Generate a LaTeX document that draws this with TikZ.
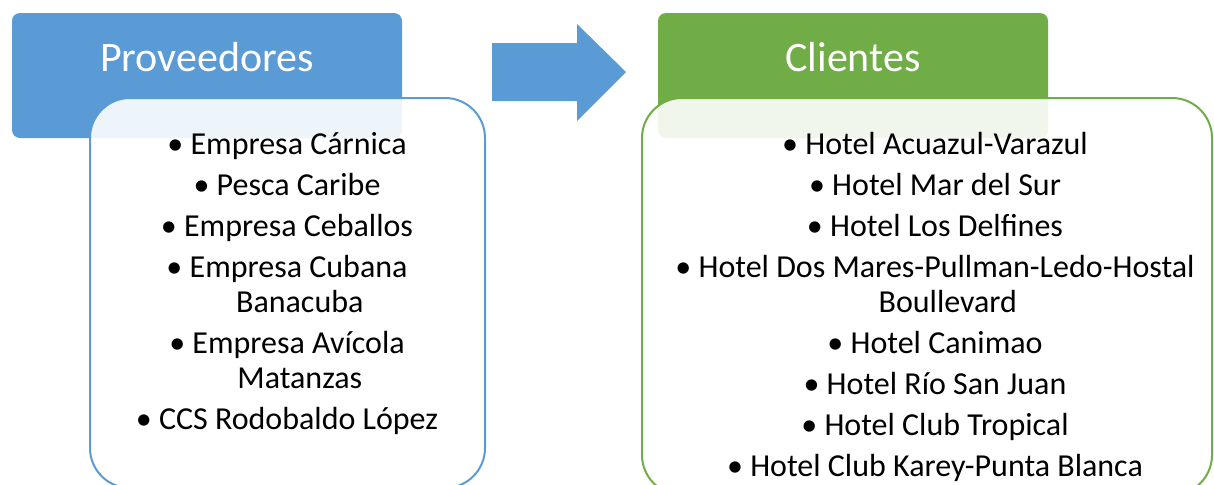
\documentclass[tikz,border=0pt]{standalone}
\usepackage{fontspec}
\setmainfont{Carlito}
\usetikzlibrary{positioning}
\definecolor{provblue}{HTML}{5B9BD5}
\definecolor{cligreen}{HTML}{70AD47}

\begin{document}
\begin{tikzpicture}[x=0.5pt, y=-0.5pt,
   head/.style={rectangle, rounded corners=4pt, fill=#1, minimum width=195pt,
     minimum height=62.5pt, inner sep=0pt},
   panel/.style={rectangle, rounded corners=20pt, draw=#1, line width=1pt,
     fill=white, fill opacity=0.9, inner sep=0pt},
   title/.style={text=white, font=\fontsize{21}{25}\selectfont, inner sep=0pt},
   items/.style={anchor=north, align=center, inner sep=0pt,
     font=\fontsize{16}{17.5}\selectfont}]
 \useasboundingbox (0,0) rectangle (1214,484);
 \clip (0,0) rectangle (1214,484);
 \node[head=provblue] (provhead) at (207,75.5) {};
 \node[head=cligreen] (clihead) at (853,75.5) {};
 \node[panel=provblue, minimum width=197.5pt, minimum height=195pt]
   (provpanel) at (287.5,293) {};
 \node[panel=cligreen, minimum width=285pt, minimum height=198.5pt]
   (clipanel) at (927,296.5) {};
 \node[title] (provtitle) at (207,57) {Proveedores};
 \node[title] (clititle) at (853,57) {Clientes};
 \node[items] (provlist) at (287,132) {• Empresa Cárnica\\[3pt]
   • Pesca Caribe\\[3pt]
   • Empresa Ceballos\\[3pt]
   • Empresa Cubana\\\hspace*{0.8em}Banacuba\\[3pt]
   • Empresa Avícola\\\hspace*{0.8em}Matanzas\\[3pt]
   • CCS Rodobaldo López};
 \node[items] (clilist) at (935,132) {• Hotel Acuazul-Varazul\\[3pt]
   • Hotel Mar del Sur\\[3pt]
   • Hotel Los Delfines\\[3pt]
   • Hotel Dos Mares-Pullman-Ledo-Hostal\\\hspace*{0.8em}Boullevard\\[3pt]
   • Hotel Canimao\\[3pt]
   • Hotel Río San Juan\\[3pt]
   • Hotel Club Tropical\\[3pt]
   • Hotel Club Karey-Punta Blanca};
 \fill[provblue] (492,43) -- (577,43) -- (577,24) -- (626,72) -- (577,121)
   -- (577,101) -- (492,101) -- cycle;
\end{tikzpicture}
\end{document}
